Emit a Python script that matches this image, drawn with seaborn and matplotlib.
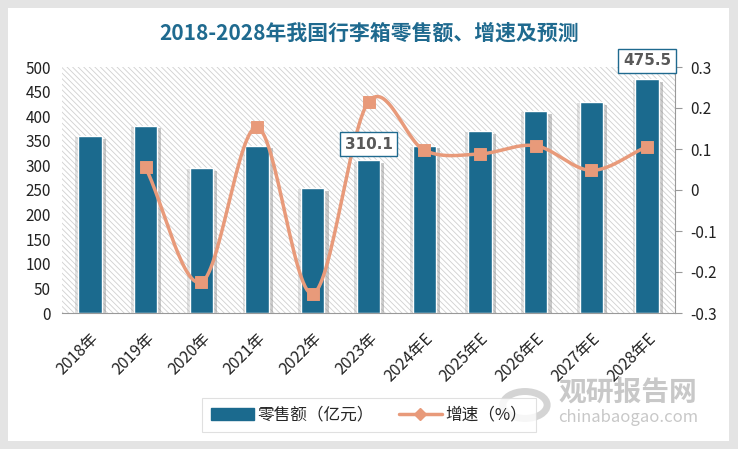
import numpy as np
import pandas as pd
import matplotlib
matplotlib.use("Agg")
import matplotlib.pyplot as plt
import matplotlib.patheffects as pe
from matplotlib.patches import Rectangle, Patch
from matplotlib.lines import Line2D
import seaborn as sns

years = ["2018年", "2019年", "2020年", "2021年", "2022年", "2023年",
         "2024年E", "2025年E", "2026年E", "2027年E", "2028年E"]
sales = [360, 381, 295, 340, 254, 310.1, 340, 370, 411, 429, 475.5]
growth = [None, 0.055, -0.225, 0.153, -0.253, 0.215, 0.097, 0.088, 0.108, 0.048, 0.106]
left_ticks = [0, 50, 100, 150, 200, 250, 300, 350, 400, 450, 500]
right_ticks = [-0.3, -0.2, -0.1, 0, 0.1, 0.2, 0.3]
right_labels = ["-0.3", "-0.2", "-0.1", "0", "0.1", "0.2", "0.3"]

BAR = "#1b6a8e"
LINE = "#e89a7a"
TITLE = "#1f6a8f"

sns.set_style("white")
plt.rcParams["font.family"] = ["Noto Sans CJK SC", "DejaVu Sans"]
plt.rcParams["hatch.linewidth"] = 0.6
plt.rcParams["hatch.color"] = "#d0d0d0"

fig = plt.figure(figsize=(7.38, 4.49), dpi=100, facecolor="#e4e4e4")
# white card
fig.patches.append(Rectangle((8 / 738, 8 / 449), 721 / 738, 433 / 449,
                             transform=fig.transFigure, facecolor="white",
                             edgecolor="none", zorder=-10))

ax = fig.add_axes([62 / 738, 1 - 313 / 449, 613 / 738, 246 / 449])
ax.set_facecolor("white")
ax.add_patch(Rectangle((0, 0), 1, 1, transform=ax.transAxes, facecolor="white",
                       edgecolor="#d0d0d0", hatch="\\\\\\\\\\\\", linewidth=0, zorder=0))

df = pd.DataFrame({"year": years, "sales": sales})
sns.barplot(data=df, x="year", y="sales", color=BAR, width=0.42, ax=ax,
            saturation=1, zorder=2)
for p in ax.patches[1:]:
    p.set_edgecolor("white")
    p.set_linewidth(1.0)
    p.set_path_effects([pe.SimplePatchShadow(offset=(3, -2), shadow_rgbFace="#8a8a8a", alpha=0.45),
                        pe.SimplePatchShadow(offset=(-2, -1), shadow_rgbFace="#aaaaaa", alpha=0.35),
                        pe.Normal()])

ax.set_ylim(0, 500)
ax.set_xlim(-0.5, len(years) - 0.5)
ax.set_yticks(left_ticks)
ax.set_yticklabels([str(t) for t in left_ticks], fontsize=11, color="#222222")
ax.tick_params(axis="y", length=0, pad=8)
ax.tick_params(axis="x", length=0, pad=12)
ax.set_xticks(range(len(years)))
ax.set_xticklabels(years, rotation=45, ha="right", rotation_mode="anchor",
                   fontsize=11.5, color="#222222")
ax.set_xlabel("")
ax.set_ylabel("")
for s in ["top", "left", "right"]:
    ax.spines[s].set_visible(False)
ax.spines["bottom"].set_color("#999999")

ax2 = ax.twinx()
ax2.set_ylim(-0.3, 0.3)
ax2.set_yticks(right_ticks)
ax2.set_yticklabels(right_labels, fontsize=11, color="#222222")
ax2.tick_params(axis="y", length=5, color="#999999", pad=6)
for s in ["top", "left", "bottom"]:
    ax2.spines[s].set_visible(False)
ax2.spines["right"].set_color("#999999")

# smoothed rendering of the growth line (Catmull-Rom through the data points)
gx = np.array([i for i, g in enumerate(growth) if g is not None], dtype=float)
gy = np.array([g for g in growth if g is not None], dtype=float)
px = np.concatenate([[2 * gx[0] - gx[1]], gx, [2 * gx[-1] - gx[-2]]])
py = np.concatenate([[2 * gy[0] - gy[1]], gy, [2 * gy[-1] - gy[-2]]])
cx, cy = [], []
t = np.linspace(0, 1, 30)
for k in range(1, len(px) - 2):
    p0, p1, p2, p3 = py[k - 1], py[k], py[k + 1], py[k + 2]
    cy.extend(0.5 * ((2 * p1) + (-p0 + p2) * t + (2 * p0 - 5 * p1 + 4 * p2 - p3) * t ** 2
                     + (-p0 + 3 * p1 - 3 * p2 + p3) * t ** 3))
    cx.extend(px[k] + t * (px[k + 1] - px[k]))
ax2.plot(cx, cy, color=LINE, linewidth=2.5, zorder=4, solid_capstyle="round")
sns.scatterplot(x=gx, y=gy, marker="s", s=70, color=LINE, edgecolor=LINE,
                ax=ax2, zorder=5, legend=False)

# value boxes for 2023 and 2028, above the line
for i, off in [(5, 33), (10, 37)]:
    ax2.text(i, -0.3 + (sales[i] + off) * 0.6 / 500, f"{sales[i]:.1f}", ha="center", va="center",
             fontsize=11, fontweight="bold", color="#595959", family="DejaVu Sans",
             bbox=dict(boxstyle="square,pad=0.3", facecolor="white", edgecolor=TITLE, linewidth=1),
             zorder=6, clip_on=False)

fig.text(0.5, 1 - 33 / 449, "2018-2028年我国行李箱零售额、增速及预测", ha="center",
         va="center", fontsize=15, fontweight="bold", color=TITLE)

handles = [Patch(facecolor=BAR, edgecolor=BAR),
           Line2D([0], [0], color=LINE, lw=2.5, marker="D", markersize=6)]
leg = fig.legend(handles, ["零售额（亿元）", "增速（%）"], loc="center",
                 bbox_to_anchor=(369 / 738, 1 - 415 / 449), ncol=2, fontsize=12,
                 frameon=True, fancybox=False, edgecolor="#d9d9d9",
                 handlelength=2.6, handletextpad=0.2, columnspacing=1.5, borderpad=0.5)
leg.get_frame().set_linewidth(0.8)

# watermark
fig.text(628 / 738, 1 - 393 / 449, "观研报告网", ha="center", va="center",
         fontsize=20, fontweight="bold", color="#c8c8c8")
fig.text(628 / 738, 1 - 418 / 449, "chinabaogao.com", ha="center", va="center",
         fontsize=12, color="#c8c8c8")
fig.patches.append(plt.Circle((525 / 738, 1 - 405 / 449), 0.03, transform=fig.transFigure,
                              facecolor="none", edgecolor="#d4d4d4", linewidth=5, zorder=1))

fig.savefig("out.png", dpi=100, facecolor=fig.get_facecolor())
